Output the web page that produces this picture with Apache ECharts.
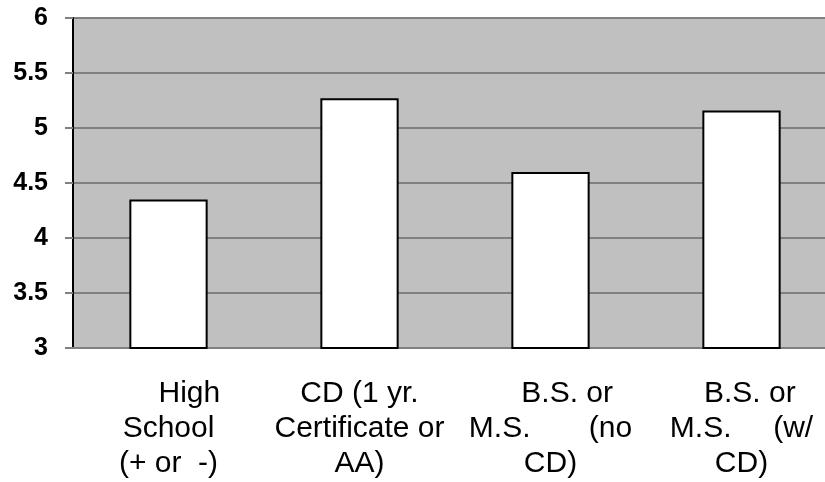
<!DOCTYPE html>
<html>
<head>
<meta charset="utf-8">
<style>
  html, body { margin: 0; padding: 0; background: #fff; }
  #main { width: 825px; height: 482px; }
</style>
<script src="https://cdn.jsdelivr.net/npm/echarts@6/dist/echarts.min.js"></script>
</head>
<body>
<div id="main"></div>
<script>
// 类别（保留原图的换行和两端对齐留下的空格）
const categories = [
  '     High\nSchool\n(+ or  -)',
  'CD (1 yr.\nCertificate or\nAA)',
  '    B.S. or\nM.S.       (no\nCD)',
  '  B.S. or\nM.S.     (w/\nCD)'
]
const values = [4.35, 5.27, 4.6, 5.16]
const yTicks = [3, 3.5, 4, 4.5, 5, 5.5, 6]

const chart = echarts.init(document.getElementById('main'), null, { renderer: 'canvas' })
const option = {
  animation: false,
  grid: {
    left: 73,
    right: -12, // 原图右侧被裁掉一截
    top: 18,
    bottom: 134,
    outerBoundsMode: 'none',
    containLabel: false,
    show: true,
    backgroundColor: '#c0c0c0',
    borderWidth: 0
  },
  xAxis: {
    type: 'category',
    data: categories,
    axisLine: { lineStyle: { color: '#808080', width: 2 } },
    axisTick: { show: false },
    axisLabel: {
      interval: 0,
      margin: 28,
      color: '#000',
      fontFamily: 'Liberation Sans, Arial',
      fontSize: 30,
      lineHeight: 35
    }
  },
  yAxis: {
    type: 'value',
    min: yTicks[0],
    max: yTicks[yTicks.length - 1],
    interval: 0.5,
    axisLine: { show: true, lineStyle: { color: '#000', width: 2 } },
    axisTick: { show: true, length: 8, lineStyle: { color: '#808080', width: 2 } },
    splitLine: { lineStyle: { color: '#808080', width: 2 } },
    axisLabel: {
      margin: 25,
      color: '#000',
      fontFamily: 'Liberation Sans, Arial',
      fontWeight: 'bold',
      fontSize: 25
    }
  },
  series: [
    {
      type: 'bar',
      data: values,
      barWidth: '41%',
      itemStyle: {
        color: '#fff',
        borderColor: '#000',
        borderWidth: 2
      }
    }
  ]
}
chart.setOption(option)
</script>
</body>
</html>
